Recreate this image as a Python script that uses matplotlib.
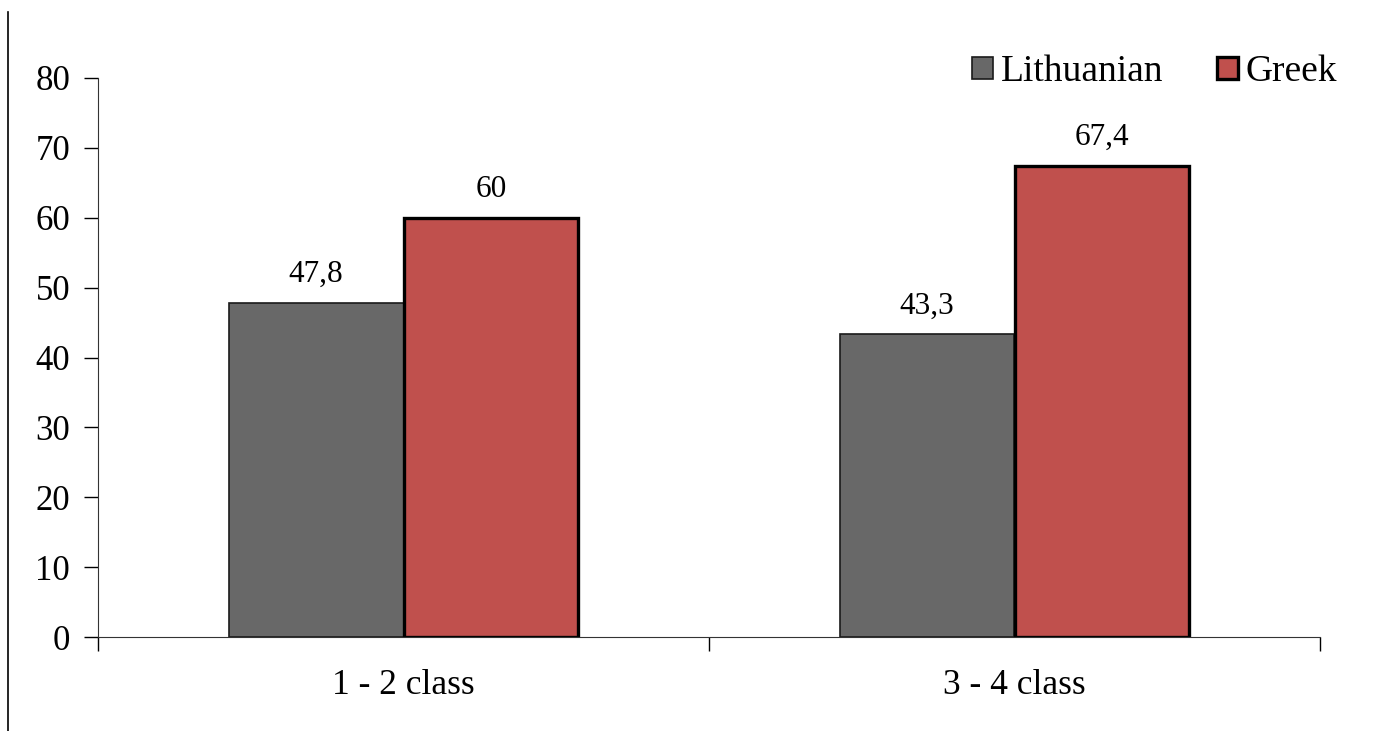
import numpy as np
import matplotlib
matplotlib.use("Agg")
from matplotlib import pyplot as plt
from matplotlib.lines import Line2D

plt.rcParams['font.family'] = ['Liberation Serif', 'DejaVu Serif']

categories = ["1 - 2 class", "3 - 4 class"]
lithuanian = [47.8, 43.3]
greek = [60, 67.4]
lith_labels = ["47,8", "43,3"]
greek_labels = ["60", "67,4"]

W, H = 1384, 731
fig = plt.figure(figsize=(W / 100, H / 100), dpi=100)
ax = fig.add_axes([98 / W, 1 - 637 / H, (1320 - 98) / W, (637 - 78) / H])

x = np.arange(len(categories))
w = 0.286
b1 = ax.bar(x - w / 2, lithuanian, w, color="#686868", edgecolor="#1a1a1a",
            linewidth=1.2, label="Lithuanian")
b2 = ax.bar(x + w / 2, greek, w, color="#C0504D", edgecolor="black",
            linewidth=2.4, label="Greek")

# value labels above the bars
for bar, txt in zip(b1, lith_labels):
    ax.text(bar.get_x() + bar.get_width() / 2, bar.get_height() + 2.0, txt,
            ha="center", va="bottom", fontsize=22.5)
for bar, txt in zip(b2, greek_labels):
    ax.text(bar.get_x() + bar.get_width() / 2, bar.get_height() + 2.0, txt,
            ha="center", va="bottom", fontsize=22.5)

ax.set_xlim(-0.5, 1.5)
ax.set_ylim(0, 80)
ax.set_yticks(range(0, 81, 10))
ax.tick_params(axis="y", direction="out", length=10, width=1, labelsize=25, pad=10)
ax.set_xticks([-0.5, 0.5, 1.5])
ax.set_xticklabels([])
ax.set_xticks(x, minor=True)
ax.set_xticklabels(categories, minor=True)
ax.tick_params(axis="x", which="major", direction="out", length=10, width=1)
ax.tick_params(axis="x", which="minor", length=0, labelsize=25.5, pad=23)
for s in ["top", "right"]:
    ax.spines[s].set_visible(False)
ax.spines["left"].set_color("#333333")
ax.spines["bottom"].set_color("#333333")

ax.legend(loc="center right", bbox_to_anchor=(1337 / W, 1 - 72 / H),
          bbox_transform=fig.transFigure, ncol=2, frameon=False,
          fontsize=27, handlelength=0.55, handleheight=0.55, handletextpad=0.2,
          columnspacing=1.45, borderpad=0, borderaxespad=0)

# vertical border line at the left edge of the picture
fig.add_artist(Line2D([8 / W, 8 / W], [0, 1 - 12 / H], color="black", linewidth=1.2))

fig.savefig("out.png", dpi=100)
